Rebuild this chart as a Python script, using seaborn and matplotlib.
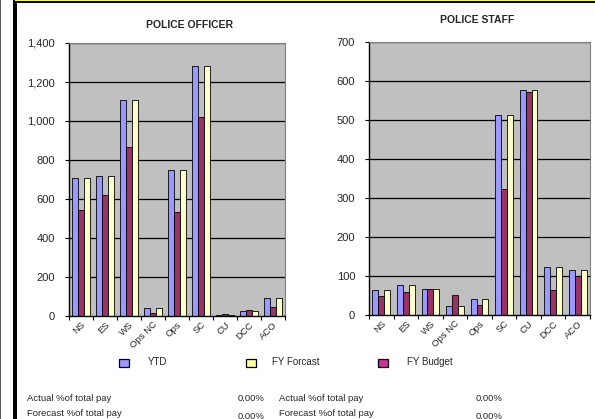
import matplotlib
matplotlib.use("Agg")
import matplotlib.pyplot as plt
import matplotlib.patches as mpatches
from matplotlib.ticker import FixedLocator, FuncFormatter
import pandas as pd
import seaborn as sns

sns.set_theme(style="white")
plt.rcParams["font.family"] = ["Liberation Sans", "DejaVu Sans"]

categories = ["NS", "ES", "WS", "Ops NC", "Ops", "SC", "CU", "DCC", "ACO"]

officer_ytd = [710, 720, 1110, 43, 750, 1280, 6, 25, 92]
officer_budget = [545, 620, 865, 14, 535, 1022, 12, 32, 45]
officer_forecast = [710, 720, 1110, 43, 750, 1280, 6, 25, 92]

staff_ytd = [64, 76, 67, 22, 40, 513, 577, 122, 116]
staff_budget = [50, 58, 67, 52, 25, 324, 572, 65, 99]
staff_forecast = [64, 76, 67, 22, 40, 513, 577, 122, 116]

series_order = ["YTD", "FY Budget", "FY Forcast"]
bar_colors = {"YTD": "#9999FF", "FY Budget": "#993366", "FY Forcast": "#FFFFCC"}
legend_colors = {"YTD": "#9999FF", "FY Forcast": "#FFFFA0", "FY Budget": "#CC3399"}

summary_labels = ["Actual %of total pay", "Forecast %of total pay"]
summary_values = ["0.00%", "0.00%"]

W, H = 595, 419
fig = plt.figure(figsize=(W / 100, H / 100), dpi=100)
fig.patch.set_facecolor("white")


def px_rect(x0, y0, x1, y1):
    return [x0 / W, 1 - y1 / H, (x1 - x0) / W, (y1 - y0) / H]


def long_frame(ytd, budget, forecast):
    rows = []
    for name, vals in (("YTD", ytd), ("FY Budget", budget), ("FY Forcast", forecast)):
        for c, v in zip(categories, vals):
            rows.append({"cat": c, "series": name, "value": v})
    return pd.DataFrame(rows)


def draw_panel(rect, df, title, ymax, step, title_xy):
    ax = fig.add_axes(rect)
    ax.set_facecolor("#C0C0C0")
    sns.barplot(data=df, x="cat", y="value", hue="series", order=categories,
                hue_order=series_order, palette=bar_colors, width=0.72,
                edgecolor="black", linewidth=0.6, ax=ax, legend=False,
                errorbar=None, saturation=1)
    ax.set_xlim(-0.5, len(categories) - 0.5)
    ax.set_ylim(0, ymax)
    ticks = list(range(0, ymax + 1, step))
    ax.yaxis.set_major_locator(FixedLocator(ticks))
    ax.yaxis.set_major_formatter(FuncFormatter(lambda v, p: f"{int(v):,}"))
    for t in ticks[1:]:
        ax.axhline(t, color="black", lw=0.9, zorder=0.5)
    ax.set_xlabel("")
    ax.set_ylabel("")
    ax.tick_params(axis="y", which="major", length=3, width=0.8, color="black",
                   labelsize=8, pad=7, direction="out", left=True)
    ax.set_xticks(range(len(categories)))
    ax.set_xticklabels(categories, rotation=45, ha="right", rotation_mode="anchor",
                       fontsize=6.8)
    ax.tick_params(axis="x", which="major", length=0, pad=3)
    ax.set_xticks([i - 0.5 for i in range(len(categories) + 1)], minor=True)
    ax.tick_params(axis="x", which="minor", length=3, width=0.8, color="black",
                   direction="out", bottom=True)
    for s in ("top", "right"):
        ax.spines[s].set_color("#808080")
        ax.spines[s].set_linewidth(0.8)
    for s in ("left", "bottom"):
        ax.spines[s].set_color("black")
        ax.spines[s].set_linewidth(1.0)
    fig.text(title_xy[0] / W, 1 - title_xy[1] / H, title, ha="center", va="center",
             fontsize=7.5, fontweight="bold")
    return ax


draw_panel(px_rect(69, 43, 285, 316), long_frame(officer_ytd, officer_budget, officer_forecast),
           "POLICE OFFICER", 1400, 200, (190, 25))
draw_panel(px_rect(369, 42, 590, 315), long_frame(staff_ytd, staff_budget, staff_forecast),
           "POLICE STAFF", 700, 100, (477, 20))

# legend row
legend_items = [("YTD", 119, 148), ("FY Forcast", 246, 272), ("FY Budget", 378, 407)]
for name, sx, tx in legend_items:
    fig.add_artist(mpatches.Rectangle((sx / W, 1 - 367 / H), 10 / W, 8 / H,
                                      transform=fig.transFigure,
                                      facecolor=legend_colors[name],
                                      edgecolor="black", lw=0.9))
    fig.text(tx / W, 1 - 362 / H, name, ha="left", va="center", fontsize=7)

# summary lines under the charts
for col_x, val_x in ((27, 265), (279, 502)):
    fig.text(col_x / W, 1 - 398 / H, summary_labels[0], ha="left", va="center", fontsize=6.8)
    fig.text(val_x / W, 1 - 398 / H, summary_values[0], ha="right", va="center", fontsize=6.8)
    fig.text(col_x / W, 1 - 413 / H, summary_labels[1], ha="left", va="center", fontsize=6.8)
    fig.text(val_x / W, 1 - 416 / H, summary_values[1], ha="right", va="center", fontsize=6.8)

# page frame lines
fig.add_artist(mpatches.Rectangle((0, 0), 1.2 / W, 1, transform=fig.transFigure,
                                  facecolor="#555555", edgecolor="none"))
fig.add_artist(mpatches.Rectangle((12.5 / W, 0), 4.5 / W, 1, transform=fig.transFigure,
                                  facecolor="black", edgecolor="none"))
fig.add_artist(mpatches.Rectangle((15 / W, 1 - 3.5 / H), 1 - 15 / W, 2.5 / H,
                                  transform=fig.transFigure,
                                  facecolor="black", edgecolor="none"))
fig.add_artist(mpatches.Rectangle((15 / W, 1 - 1.2 / H), 1 - 15 / W, 1.2 / H,
                                  transform=fig.transFigure,
                                  facecolor="#FFFF33", edgecolor="none"))

fig.savefig("out.png", dpi=100)
